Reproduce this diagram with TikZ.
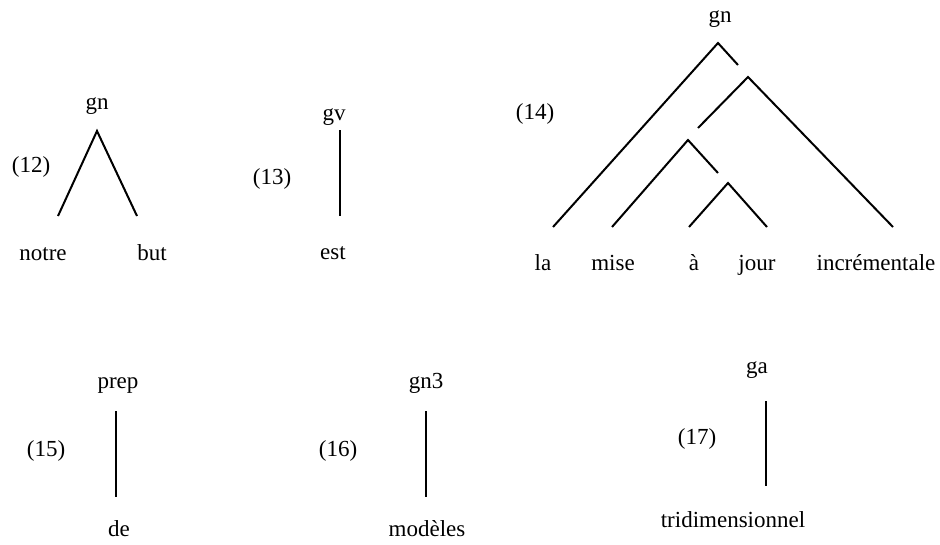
\documentclass[tikz,border=0pt]{standalone}
\usepackage{fontspec}
\setmainfont{Liberation Serif}
\begin{document}
\begin{tikzpicture}[x=1pt,y=-1pt,
  lbl/.style={font=\fontsize{23}{26}\selectfont, inner sep=0pt, anchor=base},
  br/.style={line width=2pt}]
\useasboundingbox (0,0) rectangle (940,544);
% (12)
\node[lbl] (t12) at (97,109) {gn};
\coordinate (a12) at (97,131);
\coordinate (l12) at (58,216);
\coordinate (r12) at (137,216);
\node[lbl] (notre) at (43,260) {notre};
\node[lbl] (but) at (152,260) {but};
\node[lbl] (n12) at (31,172) {(12)};
\draw[br] (l12) -- (a12) -- (r12);
% (13)
\node[lbl] (t13) at (334,120) {gv};
\coordinate (a13) at (340,130);
\coordinate (b13) at (340,216);
\node[lbl] (est) at (333,259) {est};
\node[lbl] (n13) at (272,184) {(13)};
\draw[br] (a13) -- (b13);
% (14)
\node[lbl] (t14) at (720,22) {gn};
\node[lbl] (n14) at (535,119) {(14)};
\coordinate (a14) at (718,43);
\coordinate (la14) at (553,227);
\coordinate (s14) at (738,65);
\coordinate (b14) at (748,77);
\coordinate (inc14) at (893,227);
\coordinate (s14b) at (698,128);
\coordinate (c14) at (688,140);
\coordinate (mi14) at (612,227);
\coordinate (s14c) at (718,173);
\coordinate (d14) at (728,183);
\coordinate (aa14) at (689,227);
\coordinate (jo14) at (767,227);
\draw[br] (la14) -- (a14) -- (s14);
\draw[br] (s14b) -- (b14) -- (inc14);
\draw[br] (mi14) -- (c14) -- (s14c);
\draw[br] (aa14) -- (d14) -- (jo14);
\node[lbl] (la) at (543,270) {la};
\node[lbl] (mise) at (613,270) {mise};
\node[lbl] (a) at (694,270) {à};
\node[lbl] (jour) at (757,270) {jour};
\node[lbl] (incr) at (876,270) {incrémentale};
% (15)
\node[lbl] (t15) at (118,388) {prep};
\coordinate (a15) at (116,411);
\coordinate (b15) at (116,497);
\node[lbl] (de) at (119,536) {de};
\node[lbl] (n15) at (46,456) {(15)};
\draw[br] (a15) -- (b15);
% (16)
\node[lbl] (t16) at (426,388) {gn3};
\coordinate (a16) at (426,411);
\coordinate (b16) at (426,497);
\node[lbl] (mod) at (427,536) {modèles};
\node[lbl] (n16) at (338,456) {(16)};
\draw[br] (a16) -- (b16);
% (17)
\node[lbl] (t17) at (757,373) {ga};
\coordinate (a17) at (766,401);
\coordinate (b17) at (766,486);
\node[lbl] (tri) at (733,527) {tridimensionnel};
\node[lbl] (n17) at (697,444) {(17)};
\draw[br] (a17) -- (b17);
\end{tikzpicture}
\end{document}
